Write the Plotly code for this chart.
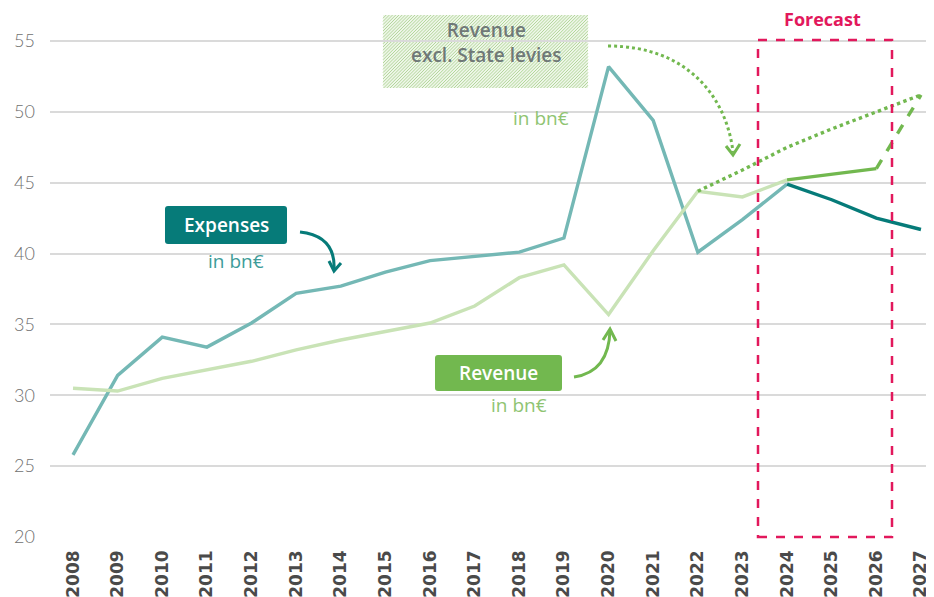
import plotly.graph_objects as go

# ---------------- data ----------------
years = list(range(2008, 2028))
year_labels = [str(y) for y in years]
expenses = [25.8, 31.4, 34.1, 33.4, 35.1, 37.2, 37.7, 38.7, 39.5, 39.8,
            40.1, 41.1, 53.2, 49.4, 40.1, 42.4, 44.9, 43.8, 42.5, 41.7]
revenue = [30.5, 30.3, 31.2, 31.8, 32.4, 33.2, 33.9, 34.5, 35.1, 36.3,
           38.3, 39.2, 35.7, 40.2, 44.4, 44.0, 45.2, 45.6, 46.0, 51.2]
excl_years = [2022, 2023, 2024, 2025, 2026, 2027]
revenue_excl_levies = [44.4, 45.9, 47.5, 48.8, 50.0, 51.2]
y_ticks = [20, 25, 30, 35, 40, 45, 50, 55]

# ---------------- styles ----------------
TEAL_LIGHT = "#74b8b5"
TEAL_DARK = "#067b79"
GREEN_LIGHT = "#c9e3b6"
GREEN = "#72b84f"
CRIMSON = "#e2185c"
GRID = "#dadada"
FONT = "Open Sans"

W, H = 934, 597
OFF = 8                      # page body offset
L, R, T, B = 42, 0, 0, 68
PW, PH = W - L - R, H - T - B


def px(x):
    return (x - OFF - L) / PW


def py(y):
    return (H - B - (y - OFF)) / PH


def path(points, close=False):
    s = ""
    for p in points:
        cmd = p[0]
        coords = p[1:]
        parts = []
        for j in range(0, len(coords), 2):
            parts.append(f"{px(coords[j]):.5f},{py(coords[j+1]):.5f}")
        s += cmd + " " + " ".join(parts) + " "
    if close:
        s += "Z"
    return s


def rounded_rect(x0, y0, x1, y1, r=3):
    return path([
        ("M", x0 + r, y0), ("L", x1 - r, y0), ("Q", x1, y0, x1, y0 + r),
        ("L", x1, y1 - r), ("Q", x1, y1, x1 - r, y1), ("L", x0 + r, y1),
        ("Q", x0, y1, x0, y1 - r), ("L", x0, y0 + r), ("Q", x0, y0, x0 + r, y0)
    ], close=True)


def hatch(x0, y0, x1, y1, step=3.2):
    h = y1 - y0
    segs = []
    c = x0 - h
    while c < x1:
        ax, ay = c, y1
        bx, by = c + h, y0
        if ax < x0:
            ay = y1 - (x0 - ax)
            ax = x0
        if bx > x1:
            by = y0 + (bx - x1)
            bx = x1
        if ax < bx:
            segs.append(("M", ax, ay))
            segs.append(("L", bx, by))
        c += step
    return path(segs)


fig = go.Figure()

i24 = years.index(2024)
i26 = years.index(2026)

# expenses
fig.add_trace(go.Scatter(x=years[:i24 + 1], y=expenses[:i24 + 1], mode="lines",
                         line=dict(color=TEAL_LIGHT, width=3.4), hoverinfo="skip"))
fig.add_trace(go.Scatter(x=years[i24:], y=expenses[i24:], mode="lines",
                         line=dict(color=TEAL_DARK, width=3.4), hoverinfo="skip"))
# revenue
fig.add_trace(go.Scatter(x=years[:i24 + 1], y=revenue[:i24 + 1], mode="lines",
                         line=dict(color=GREEN_LIGHT, width=3.4), hoverinfo="skip"))
fig.add_trace(go.Scatter(x=years[i24:i26 + 1], y=revenue[i24:i26 + 1], mode="lines",
                         line=dict(color=GREEN, width=3.4), hoverinfo="skip"))
fig.add_trace(go.Scatter(x=years[i26:], y=revenue[i26:], mode="lines",
                         line=dict(color=GREEN, width=3.4, dash="dash"), hoverinfo="skip"))
# revenue excl. state levies
fig.add_trace(go.Scatter(x=excl_years, y=revenue_excl_levies, mode="lines",
                         line=dict(color=GREEN, width=3.4, dash="dot"), hoverinfo="skip"))

shapes = []
# forecast box
shapes.append(dict(type="rect", xref="paper", yref="paper",
                   x0=px(758), x1=px(892), y0=py(537), y1=py(40),
                   line=dict(color=CRIMSON, width=2.5, dash="dash"), layer="above"))
# excl. levies hatched box
shapes.append(dict(type="rect", xref="paper", yref="paper",
                   x0=px(383), x1=px(588), y0=py(88), y1=py(15),
                   fillcolor="#eef6e8", line=dict(width=0), layer="below"))
shapes.append(dict(type="path", xref="paper", yref="paper",
                   path=hatch(383, 15, 588, 88), line=dict(color="#b3d79b", width=1),
                   layer="below"))
# expenses label box
shapes.append(dict(type="path", xref="paper", yref="paper",
                   path=rounded_rect(165, 206, 287, 244), fillcolor=TEAL_DARK,
                   line=dict(width=0)))
# revenue label box
shapes.append(dict(type="path", xref="paper", yref="paper",
                   path=rounded_rect(435, 355, 562, 391), fillcolor=GREEN,
                   line=dict(width=0)))
# arrows
shapes.append(dict(type="path", xref="paper", yref="paper",
                   path=path([("M", 300, 232), ("Q", 336, 236, 334, 270)]),
                   line=dict(color=TEAL_DARK, width=3)))
shapes.append(dict(type="path", xref="paper", yref="paper",
                   path=path([("M", 329, 261), ("L", 334, 271), ("L", 341, 263)]),
                   line=dict(color=TEAL_DARK, width=3)))
shapes.append(dict(type="path", xref="paper", yref="paper",
                   path=path([("M", 574, 377), ("Q", 609, 372, 610, 330)]),
                   line=dict(color=GREEN, width=3)))
shapes.append(dict(type="path", xref="paper", yref="paper",
                   path=path([("M", 603, 340), ("L", 610, 329), ("L", 616, 341)]),
                   line=dict(color=GREEN, width=3)))
shapes.append(dict(type="path", xref="paper", yref="paper",
                   path=path([("M", 608, 46), ("C", 690, 46, 727, 100, 733, 152)]),
                   line=dict(color=GREEN, width=3, dash="dot")))
shapes.append(dict(type="path", xref="paper", yref="paper",
                   path=path([("M", 726, 146), ("L", 733, 155), ("L", 740, 144)]),
                   line=dict(color=GREEN, width=3)))

annotations = [
    dict(x=px(822), y=py(19), text="Forecast",
         font=dict(color=CRIMSON, size=18, family=FONT, weight="bold")),
    dict(x=px(486), y=py(43), text="Revenue<br>excl. State levies",
         font=dict(color="#6f7877", size=19, family=FONT, weight=600)),
    dict(x=px(541), y=py(118), text="in bn€", font=dict(color="#8fc472", size=19, family=FONT)),
    dict(x=px(226), y=py(225), text="Expenses",
         font=dict(color="white", size=19, family=FONT, weight=600)),
    dict(x=px(236), y=py(261), text="in bn€", font=dict(color="#3e9c99", size=19, family=FONT)),
    dict(x=px(498), y=py(373), text="Revenue",
         font=dict(color="white", size=19, family=FONT, weight=600)),
    dict(x=px(519), y=py(405), text="in bn€", font=dict(color="#8fc472", size=19, family=FONT)),
]
for a in annotations:
    a.update(xref="paper", yref="paper", showarrow=False, xanchor="center", yanchor="middle")

x_left = 2008 - (73 - OFF - L) / 44.63
x_right = x_left + PW / 44.63
y_top = 20 + PH / 14.17

fig.update_layout(
    width=W, height=H,
    margin=dict(l=L, r=R, t=T, b=B, autoexpand=False),
    paper_bgcolor="white", plot_bgcolor="white",
    showlegend=False,
    shapes=shapes, annotations=annotations,
    xaxis=dict(range=[x_left, x_right], tickvals=years, ticktext=year_labels,
               tickangle=-90, tickfont=dict(family="DejaVu Sans", size=17, color="#4a4a4a", weight="bold"),
               showgrid=False, zeroline=False, showline=False, ticks="", automargin=False,
               ticklabelstandoff=9, fixedrange=True),
    yaxis=dict(range=[20, y_top], tickvals=y_ticks, showgrid=True, gridcolor=GRID, gridwidth=1.5,
               tickfont=dict(family="Lato", size=18, color="#707070", weight=300),
               zeroline=False, showline=False, ticks="", automargin=False,
               ticklabelstandoff=14, fixedrange=True),
)

fig.write_html("out.html", config={"displayModeBar": False})
